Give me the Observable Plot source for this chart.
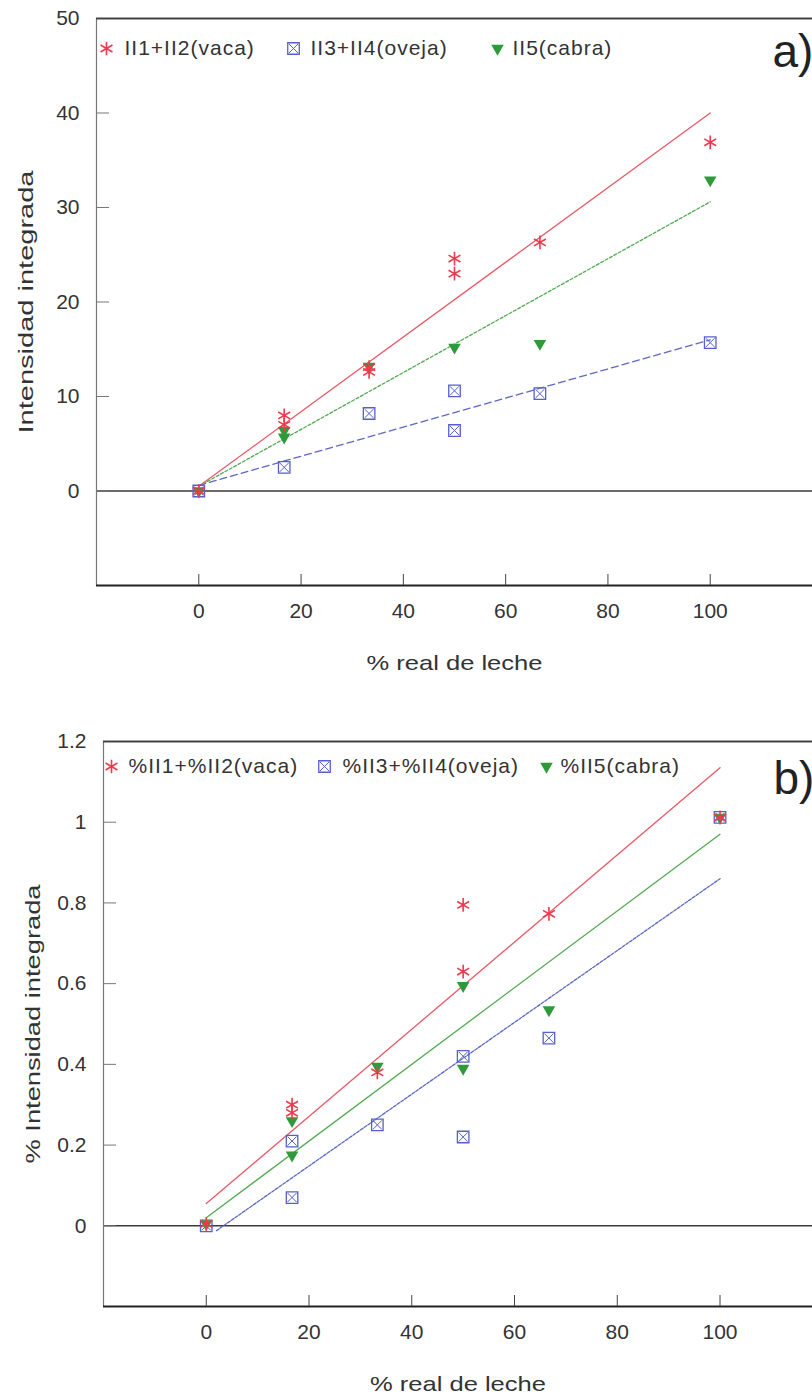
<!DOCTYPE html>
<html>
<head>
<meta charset="utf-8">
<script src="https://cdn.jsdelivr.net/npm/d3@7"></script>
<script src="https://cdn.jsdelivr.net/npm/@observablehq/plot@0.6"></script>
<style>
  body { margin: 0; background: #fff; }
  #chart svg { display: block; }
</style>
</head>
<body>
<div id="chart"></div>
<script>
// ---------- data ----------
const xTicks = [0, 20, 40, 60, 80, 100];
const xLabel = "% real de leche";

// Panel a
const yLabelA = "Intensidad integrada";
const yTickLabelsA = [0, 10, 20, 30, 40, 50];
const yTickMarksA = [0, 10, 20, 30, 40];
const legendA = ["II1+II2(vaca)", "II3+II4(oveja)", "II5(cabra)"];
const xVacaA = [0, 16.7, 16.7, 33.3, 33.3, 50, 50, 66.7, 100];
const yVacaA = [0, 8.0, 7.0, 13.1, 12.6, 24.6, 23.0, 26.3, 36.9];
const xOvejaA = [0, 16.7, 33.3, 50, 50, 66.7, 100];
const yOvejaA = [0, 2.5, 8.2, 10.6, 6.4, 10.3, 15.7];
const xCabraA = [0, 16.7, 16.7, 33.3, 50, 66.7, 100];
const yCabraA = [0, 5.7, 6.4, 13.2, 15.2, 15.6, 32.9];
const fitXA = [0, 100];
const fitVacaA = [0.5, 40.0];
const fitOvejaA = [0.6, 16.0];
const fitCabraA = [0.5, 30.6];

// Panel b
const yLabelB = "% Intensidad integrada";
const yTickLabelsB = [0, 0.2, 0.4, 0.6, 0.8, 1, 1.2];
const yTickMarksB = [0, 0.2, 0.4, 0.6, 0.8, 1];
const legendB = ["%II1+%II2(vaca)", "%II3+%II4(oveja)", "%II5(cabra)"];
const xVacaB = [0, 16.7, 16.7, 33.3, 50, 50, 66.7, 100];
const yVacaB = [0.005, 0.30, 0.28, 0.38, 0.795, 0.63, 0.773, 1.012];
const xOvejaB = [0, 16.7, 16.7, 33.3, 50, 50, 66.7, 100];
const yOvejaB = [0, 0.21, 0.07, 0.25, 0.42, 0.22, 0.465, 1.012];
const xCabraB = [0, 16.7, 16.7, 33.3, 50, 50, 66.7, 100];
const yCabraB = [0.005, 0.26, 0.175, 0.395, 0.595, 0.39, 0.535, 1.012];
const fitXVacaB = [0, 100];
const fitVacaB = [0.055, 1.135];
const fitXCabraB = [0, 100];
const fitCabraB = [0.02, 0.97];
const fitXOvejaB = [2, 100];
const fitOvejaB = [-0.012, 0.86];

// ---------- styles ----------
const RED = "#ee3a4c", BLUE = "#5560cc", GREEN = "#2f9a3a";
const RED_L = "#e75a66", BLUE_L = "#5b68c4", GREEN_L = "#52aa52";
const TXT = "#333";
const FONT = "'Liberation Sans', Arial, Helvetica, sans-serif";

const pts = (xs, ys) => xs.map((x, i) => ({x, y: ys[i]}));

function vacaMarks(data, opts = {}) {
  return [Plot.dot(data, {x: "x", y: "y", symbol: "asterisk", r: 6.5, stroke: RED, strokeWidth: 1.6, ...opts})];
}
function ovejaMarks(data, opts = {}) {
  return [
    Plot.dot(data, {x: "x", y: "y", symbol: "square", r: 6.5, stroke: BLUE, strokeWidth: 1.3, fill: "none", ...opts}),
    Plot.dot(data, {x: "x", y: "y", symbol: "times", r: 4.2, stroke: BLUE, strokeWidth: 1, ...opts})
  ];
}
function cabraMarks(data, opts = {}) {
  return [Plot.dot(data, {x: "x", y: "y", symbol: "triangle2", rotate: 180, r: 6, fill: GREEN, stroke: "none", ...opts})];
}

function panel(cfg) {
  const {height, ml, mt, mb, xDomain, yDomain, yTickLabels, yTickMarks, yFormat,
         vaca, oveja, cabra, fits, legend, legendPos, tag, tagPos, yLabel, yLabelDx, yLabelLen} = cfg;
  return Plot.plot({
    width: 812, height,
    marginLeft: ml, marginRight: 0, marginTop: mt, marginBottom: mb,
    style: {fontFamily: FONT, color: TXT, background: "#fff", overflow: "visible"},
    x: {domain: xDomain, label: null},
    y: {domain: yDomain, label: null},
    marks: [
      // zero line and frame
      Plot.ruleY([0], {stroke: "#3a3a3a", strokeWidth: 1.6}),
      Plot.ruleX([xDomain[0]], {stroke: "#777", strokeWidth: 1.2}),
      Plot.ruleY([yDomain[1]], {stroke: "#444", strokeWidth: 2}),
      Plot.ruleY([yDomain[0]], {stroke: "#222", strokeWidth: 2}),
      // axes: inward ticks + labels
      Plot.axisY({ticks: yTickMarks, tickSize: -13, text: null, stroke: "#777"}),
      Plot.axisY({ticks: yTickLabels, tickSize: 0, tickPadding: 17, tickFormat: yFormat, fontSize: 21, fill: TXT}),
      Plot.axisX({ticks: xTicks, tickSize: -11, text: null, stroke: "#444"}),
      Plot.axisX({ticks: xTicks, tickSize: 0, tickPadding: 18, fontSize: 21, fill: TXT}),
      // fit lines
      ...fits.map(f => Plot.line(pts(f.xs, f.ys), {x: "x", y: "y", stroke: f.color, strokeWidth: 1.3, strokeDasharray: f.dash})),
      // points
      ...ovejaMarks(oveja),
      ...cabraMarks(cabra),
      ...vacaMarks(vaca),
      // legend
      ...vacaMarks([{}], {x: null, y: null, frameAnchor: "top-left", dx: legendPos.sym[0], dy: legendPos.dy}),
      ...ovejaMarks([{}], {x: null, y: null, frameAnchor: "top-left", dx: legendPos.sym[1], dy: legendPos.dy}),
      ...cabraMarks([{}], {x: null, y: null, frameAnchor: "top-left", dx: legendPos.sym[2], dy: legendPos.dy}),
      ...legend.map((t, i) => Plot.text([t], {frameAnchor: "top-left", dx: legendPos.txt[i], dy: legendPos.dy,
        textAnchor: "start", lineAnchor: "middle", fontSize: 21, fill: TXT})),
      // panel tag
      Plot.text([tag], {frameAnchor: "top-right", dx: tagPos[0], dy: tagPos[1], textAnchor: "start",
        lineAnchor: "bottom", fontSize: 46, fill: "#222"}),
      // axis titles
      Plot.text([xLabel], {frameAnchor: "bottom", dy: 78, lineAnchor: "middle", fontSize: 21, fill: TXT}),
      Plot.text([yLabel], {frameAnchor: "left", dx: yLabelDx, dy: yLabelLen / 2, rotate: -90, textAnchor: "start",
        lineAnchor: "middle", fontSize: 21, fill: TXT})
    ]
  });
}

const svgA = panel({
  height: 700, ml: 96, mt: 18, mb: 115,
  xDomain: [-20, 120], yDomain: [-10, 50],
  yTickLabels: yTickLabelsA, yTickMarks: yTickMarksA, yFormat: d => String(d),
  vaca: pts(xVacaA, yVacaA), oveja: pts(xOvejaA, yOvejaA), cabra: pts(xCabraA, yCabraA),
  fits: [
    {xs: fitXA, ys: fitOvejaA, color: BLUE_L, dash: "7,4"},
    {xs: fitXA, ys: fitCabraA, color: GREEN_L, dash: "3,2"},
    {xs: fitXA, ys: fitVacaA, color: RED_L, dash: null}
  ],
  legend: legendA,
  legendPos: {sym: [10, 197, 401], txt: [28, 214, 416], dy: 30},
  tag: "a)", tagPos: [-40, 48],
  yLabel: yLabelA, yLabelDx: -70, yLabelLen: 263
});

const svgB = panel({
  height: 696, ml: 103, mt: 41, mb: 90,
  xDomain: [-20, 118], yDomain: [-0.2, 1.2],
  yTickLabels: yTickLabelsB, yTickMarks: yTickMarksB, yFormat: d => String(d),
  vaca: pts(xVacaB, yVacaB), oveja: pts(xOvejaB, yOvejaB), cabra: pts(xCabraB, yCabraB),
  fits: [
    {xs: fitXOvejaB, ys: fitOvejaB, color: BLUE_L, dash: "3,1.5"},
    {xs: fitXCabraB, ys: fitCabraB, color: GREEN_L, dash: null},
    {xs: fitXVacaB, ys: fitVacaB, color: RED_L, dash: null}
  ],
  legend: legendB,
  legendPos: {sym: [8, 221, 443], txt: [25, 239, 457], dy: 25},
  tag: "b)", tagPos: [-39, 52],
  yLabel: yLabelB, yLabelDx: -70, yLabelLen: 279
});

const chart = document.getElementById("chart");
chart.appendChild(svgA);
chart.appendChild(svgB);

// typographic tweaks: the scanned labels are wider than the installed fonts
const legendSet = new Set([...legendA, ...legendB]);
for (const svg of [svgA, svgB]) {
  for (const t of svg.querySelectorAll("text")) {
    const s = t.textContent;
    if (legendSet.has(s)) t.setAttribute("letter-spacing", "1");
    if (s === yLabelA) { t.setAttribute("textLength", "263"); t.setAttribute("lengthAdjust", "spacingAndGlyphs"); }
    if (s === yLabelB) { t.setAttribute("textLength", "279"); t.setAttribute("lengthAdjust", "spacingAndGlyphs"); }
    if (s === xLabel) { t.setAttribute("textLength", "176"); t.setAttribute("lengthAdjust", "spacingAndGlyphs"); }
  }
}
</script>
</body>
</html>
